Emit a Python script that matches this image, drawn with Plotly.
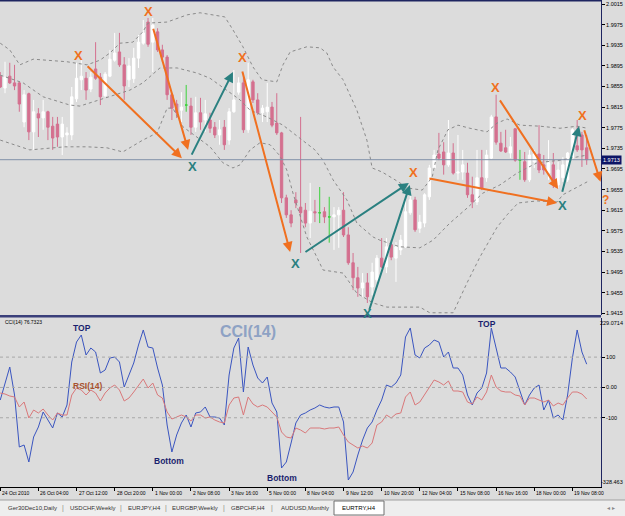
import plotly.graph_objects as go

# ---------------- data ----------------
bar_index = list(range(124))

open_ = [1.9875, 1.9852, 1.9875, 1.9862, 1.9862, 1.9786, 1.9841, 1.9767, 1.9802, 1.9794,
         1.9806, 1.9778, 1.9782, 1.9757, 1.9761, 1.9761, 1.9831, 1.9868, 1.9871, 1.9850,
         1.9889, 1.9873, 1.9837, 1.9875, 1.9906, 1.9922, 1.9897, 1.9868, 1.9870, 1.9910,
         1.9939, 1.9980, 1.9941, 1.9961, 1.9926, 1.9912, 1.9839, 1.9821, 1.9809, 1.9819,
         1.9817, 1.9776, 1.9804, 1.9790, 1.9790, 1.9776, 1.9761, 1.9776, 1.9751, 1.9806,
         1.9844, 1.9862, 1.9771, 1.9864, 1.9829, 1.9804, 1.9806, 1.9815, 1.9784, 1.9765,
         1.9639, 1.9606, 1.9635, 1.9621, 1.9615, 1.9590, 1.9612, 1.9610, 1.9612, 1.9602,
         1.9602, 1.9606, 1.9615, 1.9567, 1.9513, 1.9484, 1.9464, 1.9474, 1.9466, 1.9480,
         1.9522, 1.9505, 1.9548, 1.9522, 1.9538, 1.9544, 1.9610, 1.9635, 1.9580, 1.9590,
         1.9641, 1.9697, 1.9724, 1.9728, 1.9703, 1.9726, 1.9687, 1.9689, 1.9687, 1.9645,
         1.9631, 1.9678, 1.9678, 1.9716, 1.9796, 1.9745, 1.9736, 1.9726, 1.9773, 1.9712,
         1.9709, 1.9674, 1.9709, 1.9724, 1.9703, 1.9687, 1.9703, 1.9664, 1.9678, 1.9674,
         1.9716, 1.9740, 1.9761, 1.9736]
high = [1.9883, 1.9903, 1.9901, 1.9897, 1.9864, 1.9848, 1.9843, 1.9829, 1.9813, 1.9829,
        1.9808, 1.9796, 1.9796, 1.9796, 1.9776, 1.9854, 1.9901, 1.9906, 1.9883, 1.9883,
        1.9941, 1.9881, 1.9883, 1.9926, 1.9959, 1.9959, 1.9912, 1.9910, 1.9930, 1.9955,
        1.9984, 1.9988, 1.9988, 1.9968, 1.9936, 1.9916, 1.9842, 1.9829, 1.9844, 1.9858,
        1.9833, 1.9835, 1.9833, 1.9829, 1.9804, 1.9786, 1.9790, 1.9790, 1.9813, 1.9887,
        1.9873, 1.9881, 1.9901, 1.9868, 1.9842, 1.9819, 1.9862, 1.9825, 1.9842, 1.9767,
        1.9645, 1.9615, 1.9650, 1.9796, 1.9629, 1.9668, 1.9635, 1.9660, 1.9621, 1.9641,
        1.9621, 1.9621, 1.9650, 1.9582, 1.9532, 1.9505, 1.9493, 1.9493, 1.9513, 1.9528,
        1.9561, 1.9561, 1.9557, 1.9553, 1.9567, 1.9635, 1.9645, 1.9641, 1.9606, 1.9648,
        1.9703, 1.9732, 1.9765, 1.9747, 1.9790, 1.9745, 1.9761, 1.9732, 1.9707, 1.9680,
        1.9732, 1.9732, 1.9732, 1.9800, 1.9839, 1.9767, 1.9771, 1.9757, 1.9774, 1.9732,
        1.9728, 1.9732, 1.9732, 1.9780, 1.9722, 1.9751, 1.9726, 1.9709, 1.9718, 1.9728,
        1.9774, 1.9790, 1.9767, 1.9761]
low = [1.9852, 1.9842, 1.9860, 1.9848, 1.9806, 1.9776, 1.9751, 1.9732, 1.9757, 1.9771,
       1.9751, 1.9732, 1.9738, 1.9722, 1.9738, 1.9751, 1.9825, 1.9848, 1.9829, 1.9844,
       1.9868, 1.9819, 1.9835, 1.9873, 1.9903, 1.9893, 1.9829, 1.9854, 1.9862, 1.9891,
       1.9936, 1.9932, 1.9883, 1.9922, 1.9903, 1.9829, 1.9790, 1.9794, 1.9786, 1.9806,
       1.9761, 1.9767, 1.9771, 1.9767, 1.9765, 1.9755, 1.9742, 1.9732, 1.9742, 1.9804,
       1.9839, 1.9765, 1.9765, 1.9823, 1.9800, 1.9786, 1.9786, 1.9776, 1.9761, 1.9629,
       1.9600, 1.9582, 1.9619, 1.9532, 1.9582, 1.9561, 1.9592, 1.9590, 1.9590, 1.9552,
       1.9538, 1.9542, 1.9563, 1.9509, 1.9460, 1.9447, 1.9447, 1.9435, 1.9450, 1.9476,
       1.9503, 1.9493, 1.9518, 1.9476, 1.9528, 1.9542, 1.9606, 1.9573, 1.9571, 1.9582,
       1.9635, 1.9693, 1.9712, 1.9684, 1.9699, 1.9684, 1.9674, 1.9674, 1.9639, 1.9619,
       1.9625, 1.9654, 1.9670, 1.9714, 1.9742, 1.9728, 1.9726, 1.9716, 1.9709, 1.9674,
       1.9670, 1.9670, 1.9697, 1.9687, 1.9684, 1.9674, 1.9658, 1.9658, 1.9670, 1.9670,
       1.9712, 1.9728, 1.9699, 1.9703]
close = [1.9854, 1.9873, 1.9862, 1.9856, 1.9821, 1.9839, 1.9767, 1.9806, 1.9794, 1.9806,
         1.9776, 1.9755, 1.9757, 1.9782, 1.9765, 1.9835, 1.9871, 1.9875, 1.9848, 1.9873,
         1.9871, 1.9835, 1.9879, 1.9908, 1.9920, 1.9897, 1.9856, 1.9895, 1.9910, 1.9941,
         1.9959, 1.9937, 1.9974, 1.9926, 1.9912, 1.9839, 1.9813, 1.9804, 1.9815, 1.9819,
         1.9776, 1.9804, 1.9786, 1.9802, 1.9774, 1.9761, 1.9771, 1.9742, 1.9806, 1.9829,
         1.9862, 1.9771, 1.9868, 1.9829, 1.9804, 1.9813, 1.9815, 1.9780, 1.9765, 1.9639,
         1.9606, 1.9590, 1.9629, 1.9610, 1.9590, 1.9613, 1.9610, 1.9610, 1.9602, 1.9602,
         1.9606, 1.9615, 1.9567, 1.9513, 1.9484, 1.9464, 1.9474, 1.9447, 1.9495, 1.9522,
         1.9505, 1.9544, 1.9524, 1.9544, 1.9557, 1.9612, 1.9635, 1.9577, 1.9592, 1.9645,
         1.9697, 1.9722, 1.9716, 1.9703, 1.9726, 1.9687, 1.9689, 1.9703, 1.9645, 1.9631,
         1.9678, 1.9658, 1.9722, 1.9796, 1.9747, 1.9730, 1.9728, 1.9738, 1.9712, 1.9712,
         1.9674, 1.9722, 1.9724, 1.9693, 1.9693, 1.9707, 1.9664, 1.9693, 1.9703, 1.9726,
         1.9771, 1.9732, 1.9732, 1.9713]

cci = [-41.5, 14.6, 67.4, -25.0, -196.5, -189.9, -246.0, -163.5, -130.5, -81.0,
       -107.4, -133.8, -84.3, -97.5, -57.9, 83.9, 149.9, 173.0, 107.0, 130.1,
       116.9, 47.6, 57.5, 97.1, 100.4, 83.9, 1.4, 41.0, 80.6, 140.0,
       189.5, 133.4, 130.1, 64.1, 8.0, -123.9, -213.0, -156.9, -117.3, -90.9,
       -130.5, -84.3, -81.0, -64.5, -97.5, -97.5, -100.8, -123.9, 41.0, 130.1,
       163.1, -15.1, 133.4, 74.0, 31.1, 14.6, 34.4, -51.3, -81.0, -265.8,
       -246.0, -183.3, -117.3, -90.9, -84.3, -74.4, -67.8, -57.9, -64.5, -67.8,
       -64.5, -64.5, -114.0, -305.4, -279.0, -222.9, -173.4, -133.8, -114.0, -74.4,
       -41.5, 8.0, 1.4, 14.6, 41.0, 166.4, 196.1, 107.0, 97.1, 130.1,
       140.0, 156.5, 149.9, 100.4, 116.9, 64.1, 64.1, 41.0, -25.0, -57.9,
       -18.4, -1.9, 47.6, 196.1, 133.4, 64.1, 64.1, 50.9, 34.4, -15.1,
       -57.9, -25.0, -1.9, 8.0, -74.4, -41.5, -100.8, -90.9, -107.4, -25.0,
       97.1, 189.5, 116.9, 76.7323]

rsi = [56.0, 55.5, 54.5, 54.0, 49.0, 51.5, 43.5, 47.5, 46.0, 48.0,
       45.0, 42.5, 46.0, 45.0, 45.0, 55.0, 58.5, 57.5, 55.0, 57.5,
       56.0, 52.0, 56.0, 58.5, 60.0, 57.5, 52.0, 53.5, 56.5, 60.0,
       63.0, 58.5, 61.0, 55.0, 53.5, 46.5, 43.0, 44.0, 45.0, 44.0,
       42.0, 45.0, 45.0, 43.5, 44.0, 42.5, 41.5, 41.0, 50.0, 53.5,
       54.0, 45.0, 54.0, 50.5, 49.0, 50.0, 49.0, 46.5, 44.0, 36.5,
       34.0, 33.5, 38.5, 37.5, 36.0, 38.5, 38.5, 38.5, 38.0, 38.5,
       38.5, 39.0, 35.0, 31.5, 30.0, 28.5, 29.5, 28.5, 31.0, 40.0,
       41.5, 45.0, 43.5, 45.5, 46.0, 54.0, 56.5, 50.0, 51.5, 55.0,
       59.0, 62.5, 61.5, 60.0, 62.0, 57.0, 57.0, 56.5, 51.5, 50.5,
       54.0, 52.5, 56.5, 65.0, 59.0, 57.0, 56.5, 56.5, 55.0, 54.5,
       50.0, 53.5, 53.5, 52.5, 51.5, 52.5, 49.5, 51.0, 50.0, 53.5,
       56.5, 56.5, 55.5, 53.0]

# Bollinger band lines (bar position, price)
bb_upper_bar = [0, 2.0, 4.1, 6.9, 14.0, 18.2, 20.9, 23.0, 25.1, 27.8, 29.9, 31.0, 35.0, 39.2, 41.9,
                47.1, 48.8, 50.9, 53.0, 54.9, 58.0, 59.3, 60.8, 64.3, 67.1, 68.5, 69.8, 71.9,
                74.8, 76.9, 78.0, 80.1, 82.8, 85.5, 88.5, 90.6, 91.8, 93.9, 96.0, 98.5, 102.1,
                104.2, 106.3, 109.0, 113.2, 117.4, 121.0, 123.1]
bb_upper = [1.9939, 1.9926, 1.9897, 1.9908, 1.9903, 1.9897, 1.9906, 1.9920, 1.9939, 1.9941,
            1.9961, 1.9978, 1.9980, 1.9994, 1.9998, 1.9990, 1.9965, 1.9932, 1.9893, 1.9868,
            1.9864, 1.9897, 1.9922, 1.9932, 1.9930, 1.9920, 1.9893, 1.9868, 1.9809, 1.9751,
            1.9697, 1.9689, 1.9674, 1.9658, 1.9654, 1.9679, 1.9732, 1.9771, 1.9780, 1.9774,
            1.9767, 1.9784, 1.9792, 1.9780, 1.9778, 1.9774, 1.9778, 1.9774]
bb_mid_bar = [0, 4.8, 9.0, 14.6, 16.7, 23.0, 27.2, 29.9, 33.5, 37.1, 41.3, 44.0, 48.2, 50.3,
              52.4, 55.9, 59.3, 62.9, 66.0, 67.7, 69.8, 72.7, 74.8, 78.2, 79.6, 83.8, 88.0,
              90.8, 94.3, 97.9, 101.2, 104.8, 108.4, 112.6, 117.4, 123.1]
bb_mid = [1.9877, 1.9862, 1.9835, 1.9819, 1.9817, 1.9835, 1.9848, 1.9862, 1.9891, 1.9891,
          1.9881, 1.9871, 1.9842, 1.9829, 1.9809, 1.9796, 1.9780, 1.9755, 1.9732, 1.9712,
          1.9674, 1.9635, 1.9590, 1.9563, 1.9557, 1.9544, 1.9542, 1.9557, 1.9590, 1.9619,
          1.9648, 1.9664, 1.9687, 1.9707, 1.9712, 1.9722]
bb_lower_bar = [0, 6.2, 13.6, 18.2, 22.4, 25.7, 29.9, 32.9, 35.0, 36.2, 38.3, 41.3, 44.0, 46.7,
                48.8, 50.3, 52.4, 54.5, 56.6, 58.7, 60.1, 61.4, 62.9, 64.3, 66.4, 67.7, 71.9,
                74.8, 78.2, 81.1, 85.9, 88.0, 90.1, 95.0, 97.9, 100.6, 104.2, 106.3, 108.6,
                112.6, 116.8, 118.0, 123.1]
bb_lower = [1.9751, 1.9732, 1.9738, 1.9738, 1.9736, 1.9728, 1.9751, 1.9765, 1.9813, 1.9813,
            1.9777, 1.9757, 1.9738, 1.9707, 1.9697, 1.9703, 1.9732, 1.9746, 1.9742, 1.9720,
            1.9693, 1.9648, 1.9602, 1.9563, 1.9524, 1.9499, 1.9493, 1.9454, 1.9435, 1.9427,
            1.9427, 1.9427, 1.9416, 1.9416, 1.9474, 1.9524, 1.9582, 1.9606, 1.9629, 1.9633,
            1.9631, 1.9645, 1.9670]

time_label_bars = [0, 8, 16, 24, 32, 40, 48, 56, 64, 72, 80, 88, 96, 104, 112, 120]
time_labels = ["24 Oct 2010", "26 Oct 04:00", "27 Oct 12:00", "28 Oct 20:00", "1 Nov 00:00",
               "2 Nov 08:00", "3 Nov 16:00", "5 Nov 00:00", "8 Nov 04:00", "9 Nov 12:00",
               "10 Nov 20:00", "12 Nov 04:00", "15 Nov 08:00", "16 Nov 16:00", "18 Nov 00:00",
               "19 Nov 08:00"]
price_ticks = [2.0015, 1.9975, 1.9935, 1.9895, 1.9855, 1.9815, 1.9775, 1.9735, 1.9695,
               1.9655, 1.9615, 1.9575, 1.9535, 1.9495, 1.9455, 1.9415]
cci_levels = [100, 0, -100]
cci_level_labels = ["100", "0.00", "-100"]
cci_max, cci_min = 229.0714, -328.463

# chart objects (time/price anchored)
orange_x_bar = [16.5, 31.0, 50.9, 86.6, 103.8, 122.2]
orange_x_price = [1.9916, 2.0001, 1.9912, 1.9689, 1.9854, 1.9798]
teal_x_bar = [40.4, 62.0, 77.1, 118.0]
teal_x_price = [1.9699, 1.9511, 1.9414, 1.9625]
orange_arrows = [(18.0, 1.9897, 38.1, 1.9716), (32.0, 1.9970, 39.4, 1.9732),
                 (50.7, 1.9887, 60.8, 1.9534), (89.7, 1.9677, 116.8, 1.9629),
                 (104.6, 1.9831, 117.0, 1.9656), (122.4, 1.9773, 125.9, 1.9670)]
teal_arrows = [(40.0, 1.9720, 48.8, 1.9883), (63.7, 1.9532, 85.7, 1.9668),
               (77.3, 1.9419, 85.9, 1.9664), (117.8, 1.9648, 121.4, 1.9778)]
question_price = 1.9635

sub_texts = ["TOP", "TOP", "Bottom", "Bottom"]
sub_text_bar = [17.2, 102.1, 35.4, 59.1]
sub_text_val = [196.1, 209.3, -242.7, -298.8]

tabs = ["Ger30Dec10,Daily", "USDCHF,Weekly", "EURJPY,H4", "EURGBP,Weekly",
        "GBPCHF,H4", "AUDUSD,Monthly"]
tab_centers_px = [32, 93, 144, 194.5, 248, 304.5]
tab_sep_px = [63, 121, 166, 224, 272]
active_tab = "EURTRY,H4"

# ---------------- figure ----------------
W, H = 625, 516
ML, MR, MT, MB = 0, 24, 0, 29
PW, PH = W - ML - MR, H - MT - MB
def py(px):  # pixel row -> paper y
    return (PH - px) / PH
def pxx(px):
    return px / PW

BG = "#DCDCDC"
PINK = "#D4708F"
NAVY = "#1E2460"

fig = go.Figure()

main_idx = [i for i in bar_index if open_[i] != close[i]]
doji_idx = [i for i in bar_index if open_[i] == close[i]]

fig.add_trace(go.Candlestick(
    x=[bar_index[i] for i in main_idx],
    open=[open_[i] for i in main_idx], high=[high[i] for i in main_idx],
    low=[low[i] for i in main_idx], close=[close[i] for i in main_idx],
    increasing=dict(line=dict(color="#FFFFFF", width=1), fillcolor="#FFFFFF"),
    decreasing=dict(line=dict(color=PINK, width=1), fillcolor=PINK),
    whiskerwidth=0, hoverinfo="skip", showlegend=False, xaxis="x", yaxis="y"))

fig.add_trace(go.Candlestick(
    x=bar_index,
    open=[open_[i] if i in doji_idx else None for i in bar_index],
    high=[high[i] if i in doji_idx else None for i in bar_index],
    low=[low[i] if i in doji_idx else None for i in bar_index],
    close=[close[i] if i in doji_idx else None for i in bar_index],
    increasing=dict(line=dict(color="#3CD23C", width=1), fillcolor="#3CD23C"),
    decreasing=dict(line=dict(color="#3CD23C", width=1), fillcolor="#3CD23C"),
    whiskerwidth=0, hoverinfo="skip", showlegend=False, xaxis="x", yaxis="y"))

for bx, by in [(bb_upper_bar, bb_upper), (bb_mid_bar, bb_mid), (bb_lower_bar, bb_lower)]:
    fig.add_trace(go.Scatter(x=bx, y=by, mode="lines",
                             line=dict(color="#8A8A8A", width=1, dash="dot"),
                             hoverinfo="skip", showlegend=False, xaxis="x", yaxis="y"))

fig.add_trace(go.Scatter(x=bar_index, y=rsi, mode="lines",
                         line=dict(color="#D9787A", width=1),
                         hoverinfo="skip", showlegend=False, xaxis="x2", yaxis="y3"))
fig.add_trace(go.Scatter(x=bar_index, y=cci, mode="lines",
                         line=dict(color="#3A55C0", width=1),
                         hoverinfo="skip", showlegend=False, xaxis="x2", yaxis="y2"))

shapes = []
# current price line
shapes.append(dict(type="line", xref="x domain", yref="y", x0=0, x1=1,
                   y0=close[-1], y1=close[-1], line=dict(color="#8090A8", width=1)))
# CCI level lines
for lv in cci_levels:
    shapes.append(dict(type="line", xref="x2 domain", yref="y2", x0=0, x1=1, y0=lv, y1=lv,
                       line=dict(color="#A8A8A8", width=1, dash="dot")))
# top border, separator
shapes.append(dict(type="rect", xref="paper", yref="paper", x0=0, x1=1,
                   y0=py(1.5), y1=py(0), fillcolor=NAVY, line=dict(width=0)))
shapes.append(dict(type="rect", xref="paper", yref="paper", x0=0, x1=1,
                   y0=py(317.5), y1=py(315), fillcolor="#3A3F7A", line=dict(width=0)))
# tab bar
shapes.append(dict(type="rect", xref="paper", yref="paper", x0=0, x1=W / PW,
                   y0=py(516), y1=py(500), fillcolor="#EEEEEE", line=dict(width=0), layer="below"))
shapes.append(dict(type="line", xref="paper", yref="paper", x0=0, x1=W / PW,
                   y0=py(500), y1=py(500), line=dict(color="#A0A0A0", width=1)))
shapes.append(dict(type="rect", xref="paper", yref="paper", x0=pxx(334), x1=pxx(384),
                   y0=py(515), y1=py(501), fillcolor="#FFFFFF", line=dict(color="#707070", width=1)))

ann = []
for b, t in zip(time_label_bars, time_labels):
    ann.append(dict(x=b, y=py(488), xref="x2", yref="paper", text=t, showarrow=False,
                    xanchor="left", yanchor="top", font=dict(size=5, color="#000000")))
# price box
ann.append(dict(x=1, y=close[-1], xref="paper", yref="y", text=f"{close[-1]:.4f}",
                showarrow=False, xanchor="left", yanchor="middle", bgcolor="#0C1466",
                font=dict(size=5.5, color="#FFFFFF"), borderpad=1))
ann.append(dict(x=W / PW, y=cci_max, xref="paper", yref="y2", text=f"{cci_max:.4f}",
                showarrow=False, xanchor="right", yanchor="top",
                font=dict(size=5.5, color="#000000")))
ann.append(dict(x=W / PW, y=cci_min, xref="paper", yref="y2", text=f"{cci_min:.3f}",
                showarrow=False, xanchor="right", yanchor="bottom",
                font=dict(size=5.5, color="#000000")))
ann.append(dict(x=pxx(3), y=py(322), xref="paper", yref="paper",
                text=f"CCI(14) {cci[-1]:.4f}", showarrow=False, xanchor="left",
                yanchor="middle", font=dict(size=5, color="#000000")))
# arrows
for (ax_, ay_, hx, hy), col in [(a, "#F07020") for a in orange_arrows] + \
                              [(a, "#2A8080") for a in teal_arrows]:
    ann.append(dict(x=hx, y=hy, ax=ax_, ay=ay_, xref="x", yref="y", axref="x", ayref="y",
                    text="", showarrow=True, arrowhead=2, arrowsize=1, arrowwidth=2,
                    arrowcolor=col, standoff=0, startstandoff=0))
for b, p in zip(orange_x_bar, orange_x_price):
    ann.append(dict(x=b, y=p, xref="x", yref="y", text="<b>X</b>", showarrow=False,
                    xanchor="center", yanchor="middle",
                    font=dict(size=13, color="#F07020", family="Liberation Sans")))
for b, p in zip(teal_x_bar, teal_x_price):
    ann.append(dict(x=b, y=p, xref="x", yref="y", text="<b>X</b>", showarrow=False,
                    xanchor="center", yanchor="middle",
                    font=dict(size=13, color="#2A8080", family="Liberation Sans")))
ann.append(dict(x=pxx(605), y=question_price, xref="paper", yref="y", text="<b>?</b>",
                showarrow=False, xanchor="center", yanchor="middle",
                font=dict(size=12, color="#F07020")))
# subwindow texts
for t, b, v in zip(sub_texts, sub_text_bar, sub_text_val):
    ann.append(dict(x=b, y=v, xref="x2", yref="y2", text=f"<b>{t}</b>", showarrow=False,
                    xanchor="center", yanchor="middle",
                    font=dict(size=8.5, color="#1A1F6E")))
ann.append(dict(x=18.4, y=4.7, xref="x2", yref="y2", text="<b>RSI(14)</b>", showarrow=False,
                xanchor="center", yanchor="middle", font=dict(size=8.5, color="#A8522E")))
ann.append(dict(x=51.9, y=186.2, xref="x2", yref="y2", text="<b>CCI(14)</b>", showarrow=False,
                xanchor="center", yanchor="middle", font=dict(size=16, color="#8EA2C4")))
# tabs
for t, c in zip(tabs, tab_centers_px):
    ann.append(dict(x=pxx(c), y=py(508), xref="paper", yref="paper", text=t, showarrow=False,
                    xanchor="center", yanchor="middle", font=dict(size=6, color="#333333")))
for s in tab_sep_px:
    ann.append(dict(x=pxx(s), y=py(508), xref="paper", yref="paper", text="|", showarrow=False,
                    xanchor="center", yanchor="middle", font=dict(size=7, color="#888888")))
ann.append(dict(x=pxx(359), y=py(508), xref="paper", yref="paper", text=active_tab,
                showarrow=False, xanchor="center", yanchor="middle",
                font=dict(size=6, color="#000000")))
ann.append(dict(x=pxx(611), y=py(508), xref="paper", yref="paper", text="◂ ▸",
                showarrow=False, xanchor="center", yanchor="middle",
                font=dict(size=6, color="#888888")))

fig.update_layout(
    width=W, height=H, margin=dict(l=ML, r=MR, t=MT, b=MB),
    paper_bgcolor=BG, plot_bgcolor=BG, showlegend=False,
    font=dict(family="Liberation Sans, Arial, sans-serif", size=6, color="#000000"),
    xaxis=dict(domain=[0, 1], range=[-0.05, 126.0], anchor="y", showticklabels=False,
               showgrid=False, zeroline=False, rangeslider=dict(visible=False), ticks=""),
    yaxis=dict(domain=[py(315), 1], range=[1.94117, 2.00228], side="right", anchor="x",
               tickvals=price_ticks, ticktext=[f"{v:.4f}" for v in price_ticks],
               ticks="outside", ticklen=3, tickcolor="#000000", showline=True,
               linecolor=NAVY, linewidth=1, showgrid=False, zeroline=False,
               tickfont=dict(size=5.5, color="#000000")),
    xaxis2=dict(domain=[0, 1], range=[-0.05, 126.0], anchor="y2", showticklabels=False,
                showgrid=False, zeroline=False, tickvals=time_label_bars, ticks="outside",
                ticklen=3, tickcolor="#000000", showline=True, linecolor="#000000",
                linewidth=1),
    yaxis2=dict(domain=[0, py(318)], range=[cci_min, cci_max], side="right", anchor="x2",
                tickvals=cci_levels, ticktext=cci_level_labels, ticks="outside", ticklen=3,
                tickcolor="#000000", showline=True, linecolor=NAVY, linewidth=1,
                showgrid=False, zeroline=False, tickfont=dict(size=5.5, color="#000000")),
    yaxis3=dict(overlaying="y2", range=[9.0, 93.5], visible=False, anchor="x2"),
    shapes=shapes, annotations=ann,
)

fig.write_html("out.html", config={"displayModeBar": False})
